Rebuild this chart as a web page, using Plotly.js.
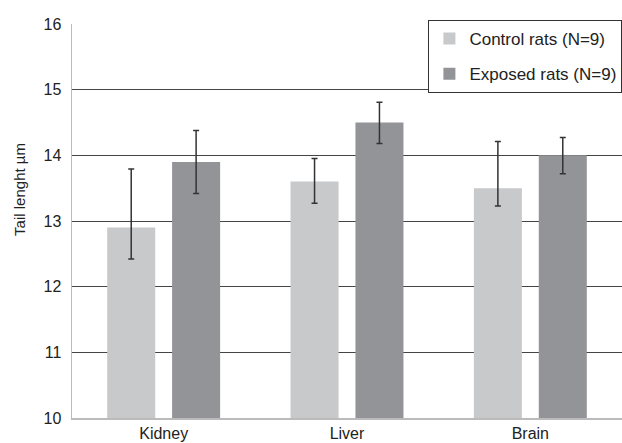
<!DOCTYPE html>
<html>
<head>
<meta charset="utf-8">
<script src="https://cdn.plot.ly/plotly-3.0.1.min.js"></script>
<style>html,body{margin:0;padding:0;background:#fff;}#chart{width:622px;height:443px;}</style>
</head>
<body>
<div id="chart"></div>
<script>
const categories = ["Kidney", "Liver", "Brain"];
const controlValues = [12.9, 13.6, 13.5];
const controlErrPlus = [0.89, 0.35, 0.71];
const controlErrMinus = [0.48, 0.33, 0.27];
const exposedValues = [13.9, 14.5, 14.0];
const exposedErrPlus = [0.48, 0.31, 0.27];
const exposedErrMinus = [0.48, 0.32, 0.28];
const seriesNames = ["Control rats (N=9)", "Exposed rats (N=9)"];
const yTicks = [10, 11, 12, 13, 14, 15, 16];
const yTitle = "Tail lenght \u00b5m";

const errStyle = {color: "#333333", thickness: 1.5, width: 3};

const traces = [
  {
    type: "bar", name: seriesNames[0], x: categories, y: controlValues,
    marker: {color: "#c8c9cb"}, legendgroup: "a",
    error_y: Object.assign({type: "data", symmetric: false, array: controlErrPlus, arrayminus: controlErrMinus}, errStyle)
  },
  {
    type: "bar", name: seriesNames[1], x: categories, y: exposedValues,
    marker: {color: "#939497"}, legendgroup: "b",
    error_y: Object.assign({type: "data", symmetric: false, array: exposedErrPlus, arrayminus: exposedErrMinus}, errStyle)
  }
];

const layout = {
  width: 622, height: 443,
  margin: {l: 72, r: 0, t: 24, b: 25, autoexpand: false},
  paper_bgcolor: "#ffffff", plot_bgcolor: "#ffffff",
  font: {family: "Liberation Sans, Arial, sans-serif", size: 16, color: "#222222"},
  barmode: "group", bargap: 0.292, bargroupgap: 0.26,
  showlegend: true,
  legend: {
    x: 0.648, xanchor: "left", y: 1.01, yanchor: "top",
    bgcolor: "#ffffff", bordercolor: "#333333", borderwidth: 1,
    traceorder: "grouped", tracegroupgap: 10,
    font: {size: 17, color: "#222222"}
  },
  xaxis: {
    type: "category", range: [-0.5, 2.5],
    showline: true, linecolor: "#bbbbbb", linewidth: 1.5,
    ticks: "", showgrid: false, zeroline: false,
    ticklabelstandoff: 0,
    tickfont: {size: 16, color: "#222222"}
  },
  yaxis: {
    range: [10, 16], tickvals: yTicks, ticktext: yTicks.map(String),
    showline: true, linecolor: "#bbbbbb", linewidth: 1.5,
    showgrid: true, gridcolor: "#444444", gridwidth: 1,
    zeroline: false, ticks: "", ticklabelstandoff: 6,
    tickfont: {size: 16, color: "#222222"}
  },
  annotations: [{
    text: yTitle, xref: "paper", yref: "paper",
    x: -0.0945, y: 0.579, xanchor: "center", yanchor: "middle",
    textangle: -90, showarrow: false,
    font: {size: 15, color: "#222222"}
  }]
};

Plotly.newPlot("chart", traces, layout, {displayModeBar: false, staticPlot: true});
</script>
</body>
</html>
